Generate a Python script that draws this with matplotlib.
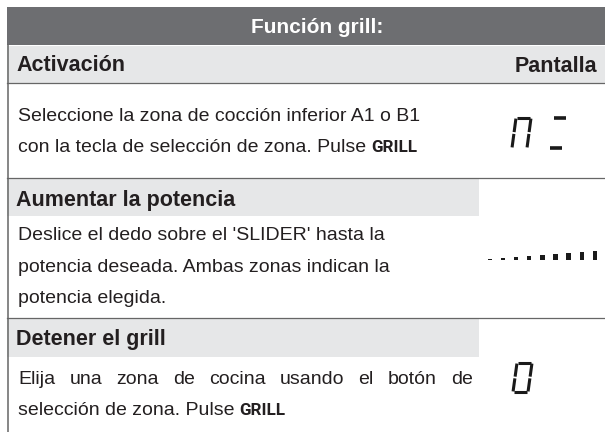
import matplotlib
matplotlib.use("Agg")
import matplotlib.pyplot as plt
from matplotlib.patches import Rectangle

# ---------------- content ----------------
title = "Función grill:"
col_left = "Activación"
col_right = "Pantalla"
section_titles = ["Aumentar la potencia", "Detener el grill"]
body_row1 = ["Seleccione la zona de cocción inferior A1 o B1",
             "con la tecla de selección de zona. Pulse"]
body_row2 = ["Deslice el dedo sobre el 'SLIDER' hasta la",
             "potencia deseada. Ambas zonas indican la",
             "potencia elegida."]
body_row3 = ["Elija una zona de cocina usando el botón de",
             "selección de zona. Pulse"]
key_label = "GRILL"
# lit 7-segment parts for the display column
display_row1 = [["a", "b", "c", "e", "f"], ["a", "d"]]
display_row3 = [["a", "b", "c", "d", "e", "f"]]
# slider indicator levels (bar heights, px)
slider_levels = [1, 2, 3, 4.5, 5.5, 6.5, 7.5, 8.5, 9.5]

# ---------------- style ----------------
DARK = "#6d6e71"
LIGHT = "#e6e7e8"
TXT = "#231f20"
LINE = "#666666"
BODY_FAM = ["Liberation Sans Narrow", "Liberation Sans", "DejaVu Sans"]
KEY_FAM = ["Roboto", "DejaVu Sans"]

fig = plt.figure(figsize=(6.05, 4.32), dpi=100)
ax = fig.add_axes([0, 0, 1, 1])
ax.set_xlim(0, 605)
ax.set_ylim(432, 0)
ax.axis("off")
renderer = fig.canvas.get_renderer()


def width_of(s, size, **kw):
    t = ax.text(0, 0, s, fontsize=size, **kw)
    w = t.get_window_extent(renderer).width
    t.remove()
    return w


def fit(s, target, **kw):
    return 20.0 * target / width_of(s, 20.0, **kw)


body_fs = fit(body_row1[0], 400, family=BODY_FAM)
head_fs = fit(section_titles[0], 219, family=BODY_FAM, weight="bold")
key_fs = fit(key_label, 46, family=KEY_FAM, weight="bold")

# ---------------- backgrounds & rules ----------------
ax.add_patch(Rectangle((7, 7), 598, 38, color=DARK, lw=0))
ax.add_patch(Rectangle((7, 46), 598, 37, color=LIGHT, lw=0))
ax.add_patch(Rectangle((7, 178), 472, 38, color=LIGHT, lw=0))
ax.add_patch(Rectangle((7, 318), 472, 39, color=LIGHT, lw=0))
ax.plot([7.5, 7.5], [45, 432], color=LINE, lw=1.1)
for yy in (83, 178, 318):
    ax.plot([7, 605], [yy, yy], color=LINE, lw=0.9)

# ---------------- texts ----------------
ax.text(317, 33, title, color="white", fontsize=head_fs * 0.97, weight="bold",
        family=BODY_FAM, ha="center", va="baseline")
ax.text(16, 71, col_left, color=TXT, fontsize=head_fs, weight="bold",
        family=BODY_FAM, va="baseline")
ax.text(597, 72, col_right, color=TXT, fontsize=head_fs, weight="bold",
        family=BODY_FAM, ha="right", va="baseline")
for s, yb in zip(section_titles, (206, 345)):
    ax.text(16, yb, s, color=TXT, fontsize=head_fs, weight="bold",
            family=BODY_FAM, va="baseline")


def body_lines(lines, y0, step=31.5):
    arts = []
    for i, s in enumerate(lines):
        arts.append(ax.text(18, y0 + i * step, s, color=TXT, fontsize=body_fs,
                            family=BODY_FAM, va="baseline"))
    return arts


def add_key(art):
    bb = art.get_window_extent(renderer)
    ax.text(bb.x1 + 5, art.get_position()[1], key_label, color=TXT,
            fontsize=key_fs, weight="bold", family=KEY_FAM, va="baseline")


r1 = body_lines(body_row1, 121)
add_key(r1[1])
body_lines(body_row2, 240)

# justified first line of row 3
words = body_row3[0].split(" ")
ws = [width_of(w, body_fs, family=BODY_FAM) for w in words]
x_left, x_right = 18, 473
gap = (x_right - x_left - sum(ws)) / (len(words) - 1)
x = x_left
for w, wd in zip(words, ws):
    ax.text(x, 384, w, color=TXT, fontsize=body_fs, family=BODY_FAM,
            va="baseline")
    x += wd + gap
r3b = ax.text(18, 415, body_row3[1], color=TXT, fontsize=body_fs,
              family=BODY_FAM, va="baseline")
add_key(r3b)

# ---------------- 7-segment displays ----------------
SEG = {
    "a": ((0.04, 1.0), (0.96, 1.0)),
    "b": ((1.0, 0.98), (1.0, 0.53)),
    "c": ((1.0, 0.47), (1.0, 0.02)),
    "d": ((0.06, 0.0), (0.94, 0.0)),
    "e": ((0.0, 0.47), (0.0, 0.02)),
    "f": ((0.0, 0.98), (0.0, 0.53)),
    "g": ((0.06, 0.5), (0.94, 0.5)),
}


def draw_digit(segs, x0, yb, w=15, h=30, slant=4, lw=2.2):
    for s in segs:
        (u0, v0), (u1, v1) = SEG[s]
        xs = [x0 + u0 * w + v0 * slant, x0 + u1 * w + v1 * slant]
        ys = [yb - v0 * h, yb - v1 * h]
        ax.plot(xs, ys, color="#1a1a1a", lw=lw, solid_capstyle="butt")


draw_digit(display_row1[0], 512, 148)
draw_digit(display_row1[1], 549, 148, w=14, lw=2.6)
draw_digit(display_row3[0], 513, 392, h=29)

# ---------------- slider indicator ----------------
xs = [490 + i * 13.1 for i in range(len(slider_levels))]
ax.bar(xs, [-v for v in slider_levels], bottom=260, width=4.4,
       color="#1a1a1a", align="center")

fig.savefig("out.png", dpi=100)
